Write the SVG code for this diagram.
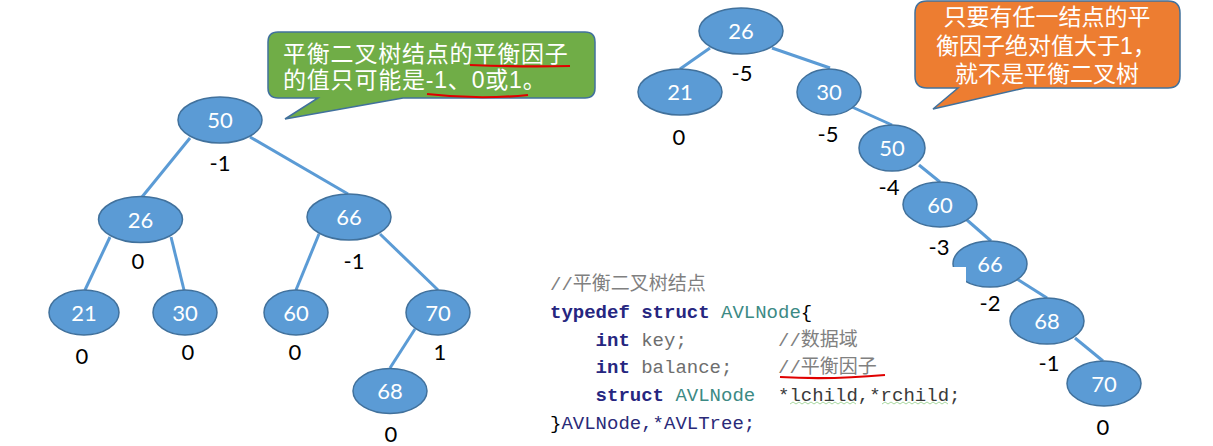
<svg xmlns="http://www.w3.org/2000/svg" width="1213" height="446" viewBox="0 0 1213 446">
<style>
.node{fill:#5b9bd5;stroke:#41719c;stroke-width:1.5}
.nl{font-family:Lato,"Liberation Sans",sans-serif;font-size:22px;fill:#fff;text-anchor:middle}
.bl{font-family:Lato,"Liberation Sans",sans-serif;font-size:22px;fill:#000;text-anchor:middle}
.edge{stroke:#5b9bd5;stroke-width:3;fill:none}
.ct{font-family:"Liberation Sans","Noto Sans CJK SC",sans-serif;font-size:23px;letter-spacing:0.8px;fill:#fff}
.ot{font-family:"Liberation Sans","Noto Sans CJK SC",sans-serif;font-size:23px;fill:#fff;text-anchor:middle}
.code{font-family:"Liberation Mono","Noto Sans CJK SC",monospace;font-size:19px}
.cm{fill:#808080}
.kw{fill:#262680;font-weight:bold}
.ty{fill:#3c8a84}
.id{fill:#6e6e6e}
.red{stroke:#e00000;stroke-width:2.2;fill:none}
.sq{stroke:#a8d8a0;stroke-width:1;fill:none}
</style>
<rect width="1213" height="446" fill="#fff"/>
<g id="connectors">
<line class="edge" x1="190" y1="138" x2="142" y2="197"/>
<line class="edge" x1="250" y1="137" x2="348" y2="194"/>
<line class="edge" x1="110" y1="237" x2="85" y2="290"/>
<line class="edge" x1="171" y1="237" x2="184" y2="290"/>
<line class="edge" x1="319" y1="234" x2="296" y2="290"/>
<line class="edge" x1="380" y1="234" x2="438" y2="290"/>
<line class="edge" x1="415" y1="329" x2="390" y2="368"/>
<line class="edge" x1="710" y1="48" x2="680" y2="69"/>
<line class="edge" x1="772" y1="48" x2="830" y2="68"/>
<line class="edge" x1="852" y1="107" x2="892" y2="125"/>
<line class="edge" x1="919" y1="165" x2="940" y2="182"/>
<line class="edge" x1="967" y1="220" x2="991" y2="241"/>
<line class="edge" x1="1017" y1="279" x2="1047" y2="298"/>
<line class="edge" x1="1075" y1="338" x2="1103" y2="361"/>
</g>
<g id="L50"><ellipse class="node" cx="220" cy="120" rx="42" ry="23"/><text class="nl" x="220" y="128">50</text><text class="bl" x="220" y="171">-1</text></g>
<g id="L26"><ellipse class="node" cx="140.5" cy="219.5" rx="42" ry="23"/><text class="nl" x="140.5" y="227.5">26</text><text class="bl" x="138" y="269">0</text></g>
<g id="L66"><ellipse class="node" cx="349" cy="217" rx="42" ry="23"/><text class="nl" x="349" y="225">66</text><text class="bl" x="354" y="269">-1</text></g>
<g id="L21"><ellipse class="node" cx="84" cy="312.5" rx="35" ry="22.5"/><text class="nl" x="84" y="320.5">21</text><text class="bl" x="82" y="364">0</text></g>
<g id="L30"><ellipse class="node" cx="185" cy="312.5" rx="32" ry="22.5"/><text class="nl" x="185" y="320.5">30</text><text class="bl" x="188" y="360">0</text></g>
<g id="L60"><ellipse class="node" cx="296" cy="312.5" rx="32" ry="22.5"/><text class="nl" x="296" y="320.5">60</text><text class="bl" x="295" y="360">0</text></g>
<g id="L70"><ellipse class="node" cx="438" cy="312.5" rx="32" ry="22.5"/><text class="nl" x="438" y="320.5">70</text><text class="bl" x="440" y="360">1</text></g>
<g id="L68"><ellipse class="node" cx="390" cy="391" rx="37" ry="22.5"/><text class="nl" x="390" y="399">68</text><text class="bl" x="391" y="442">0</text></g>
<g id="R26"><ellipse class="node" cx="741" cy="31" rx="42" ry="23"/><text class="nl" x="741" y="39">26</text><text class="bl" x="742" y="81">-5</text></g>
<g id="R21"><ellipse class="node" cx="680" cy="92" rx="42" ry="23"/><text class="nl" x="680" y="100">21</text><text class="bl" x="679" y="145">0</text></g>
<g id="R30"><ellipse class="node" cx="829" cy="92" rx="32" ry="23"/><text class="nl" x="829" y="100">30</text><text class="bl" x="828" y="142">-5</text></g>
<g id="R50"><ellipse class="node" cx="892" cy="148" rx="33" ry="23"/><text class="nl" x="892" y="156">50</text><text class="bl" x="889" y="195">-4</text></g>
<g id="R60"><ellipse class="node" cx="940" cy="204.5" rx="37" ry="22.5"/><text class="nl" x="940" y="212.5">60</text><text class="bl" x="939" y="255">-3</text></g>
<g id="R66"><ellipse class="node" cx="990" cy="264" rx="37" ry="23"/><rect x="948" y="267" width="18" height="17" fill="#fff"/><text class="nl" x="990" y="272">66</text><text class="bl" x="990" y="311">-2</text></g>
<g id="R68"><ellipse class="node" cx="1047" cy="321" rx="37" ry="23"/><text class="nl" x="1047" y="329">68</text><text class="bl" x="1049" y="371">-1</text></g>
<g id="R70"><ellipse class="node" cx="1104" cy="383.5" rx="37" ry="22.5"/><text class="nl" x="1104" y="391.5">70</text><text class="bl" x="1103" y="435">0</text></g>
<g id="callout-green">
<path d="M278,32 H585 Q595,32 595,42 V88 Q595,98 585,98 H403 L285,119 L318,98 H278 Q268,98 268,88 V42 Q268,32 278,32 Z" fill="#70ad47" stroke="#41719c" stroke-width="1.5"/>
<text class="ct"><tspan x="283" y="61.5">平衡二叉树结点的平衡因子</tspan><tspan x="283" y="87.5">的值只可能是-1、0或1。</tspan></text>
<path class="red" d="M470,65 Q520,67 570,66"/>
<path class="red" d="M427,94 Q478,100 528,95"/>
</g>
<g id="callout-orange">
<path d="M927,1 H1168 Q1180,1 1180,13 V76 Q1180,88 1168,88 H1025 L933,109 L958,88 H927 Q915,88 915,76 V13 Q915,1 927,1 Z" fill="#ed7d31" stroke="#41719c" stroke-width="1.5"/>
<text class="ot"><tspan x="1047" y="25">只要有任一结点的平</tspan><tspan x="1046" y="54">衡因子绝对值大于1，</tspan><tspan x="1047" y="82">就不是平衡二叉树</tspan></text>
</g>
<g id="code" class="code">
<text x="550" y="290" class="cm">//平衡二叉树结点</text>
<text y="318"><tspan x="550" class="kw">typedef</tspan><tspan x="641.2" class="kw">struct</tspan><tspan x="721" class="ty">AVLNode</tspan><tspan x="800.8" fill="#000">{</tspan></text>
<text y="346"><tspan x="595.6" class="kw">int</tspan><tspan x="641.2" class="id">key;</tspan><tspan x="778" class="cm">//数据域</tspan></text>
<text y="373"><tspan x="595.6" class="kw">int</tspan><tspan x="641.2" class="id">balance;</tspan><tspan x="778" class="cm">//平衡因子</tspan></text>
<text y="401"><tspan x="595.6" class="kw">struct</tspan><tspan x="675.4" class="ty">AVLNode</tspan><tspan x="778" fill="#3a3a3a">*lchild,*rchild;</tspan></text>
<text y="429"><tspan x="550" fill="#000">}</tspan><tspan x="561.4" fill="#2a2a78">AVLNode,*AVLTree;</tspan></text>
<path class="red" d="M780,377 Q830,380 885,375"/>
<path class="sq" d="M790,404 l3,-2 l3,2 l3,-2 l3,2 l3,-2 l3,2 l3,-2 l3,2 l3,-2 l3,2 l3,-2 l3,2 l3,-2 l3,2 l3,-2 l3,2 l3,-2 l3,2 l3,-2 l3,2 l3,-2 l3,2"/>
<path class="sq" d="M882,404 l3,-2 l3,2 l3,-2 l3,2 l3,-2 l3,2 l3,-2 l3,2 l3,-2 l3,2 l3,-2 l3,2 l3,-2 l3,2 l3,-2 l3,2 l3,-2 l3,2 l3,-2 l3,2 l3,-2 l3,2"/>
</g>
</svg>
